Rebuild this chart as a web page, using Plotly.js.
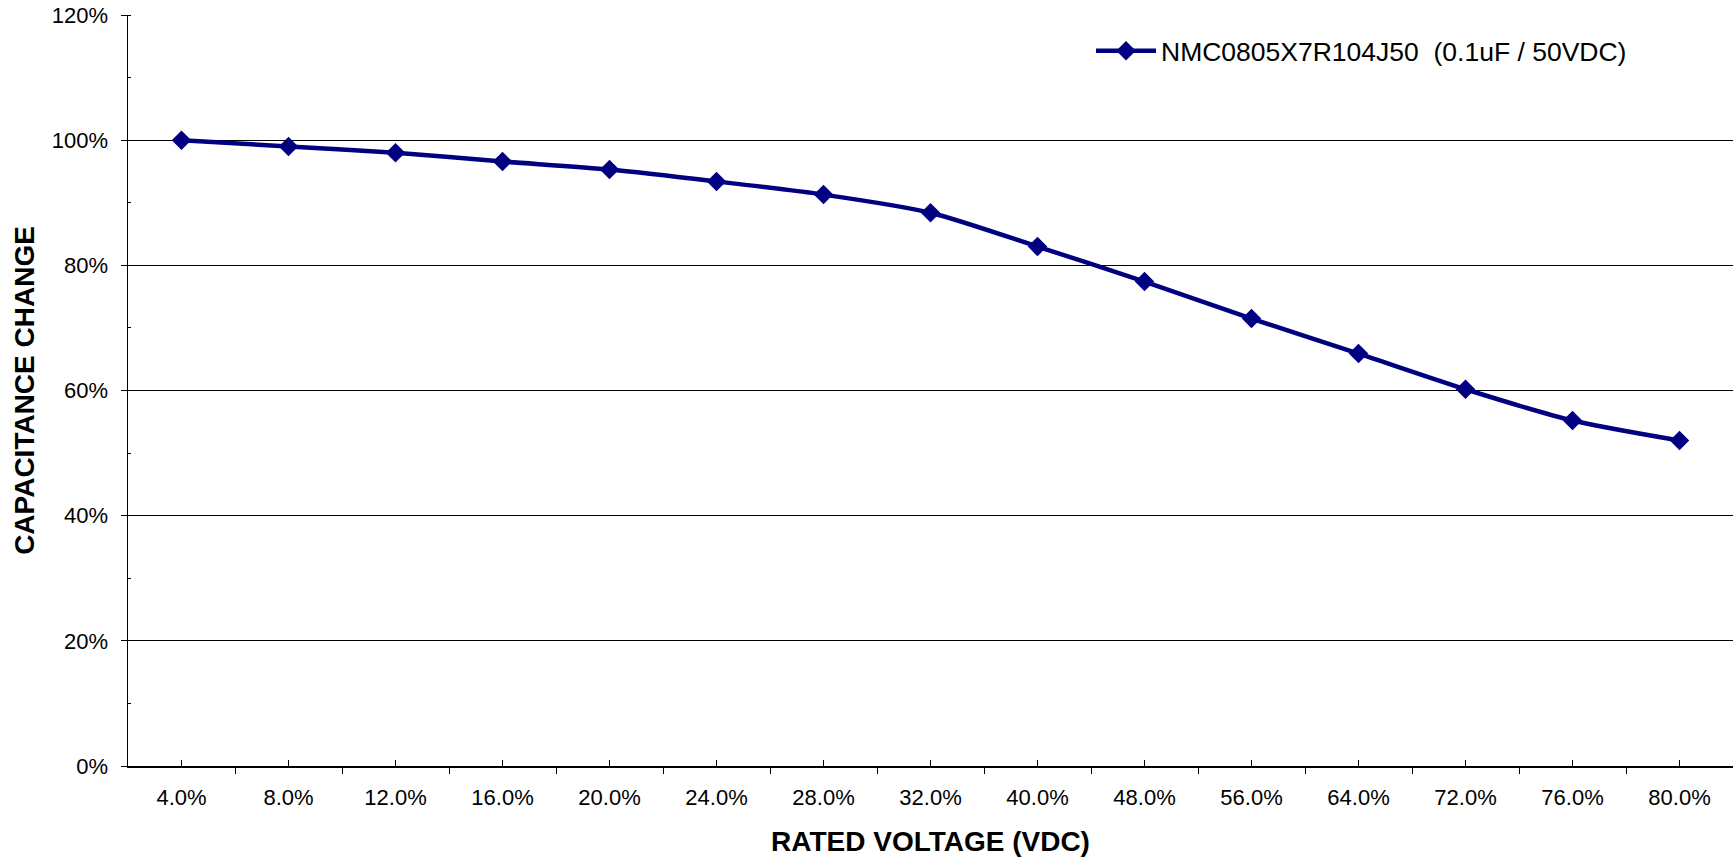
<!DOCTYPE html>
<html>
<head>
<meta charset="utf-8">
<script src="https://cdn.plot.ly/plotly-3.0.1.min.js"></script>
<style>html,body{margin:0;padding:0;background:#fff;}#chart{width:1733px;height:858px;}</style>
</head>
<body>
<div id="chart"></div>
<script>
var categories = ["4.0%","8.0%","12.0%","16.0%","20.0%","24.0%","28.0%","32.0%","40.0%","48.0%","56.0%","64.0%","72.0%","76.0%","80.0%"];
var capacitanceChange = [100, 99, 98, 96.6, 95.3, 93.4, 91.3, 88.4, 83.0, 77.4, 71.5, 65.9, 60.2, 55.2, 52.0];
var seriesName = "NMC0805X7R104J50\u00a0 (0.1uF / 50VDC)";
var yTickVals = [0, 20, 40, 60, 80, 100, 120];
var yTickText = ["0%","20%","40%","60%","80%","100%","120%"];

var xIdx = categories.map(function(c, i){ return i; });

var trace = {
  x: xIdx,
  y: capacitanceChange,
  type: 'scatter',
  mode: 'lines+markers',
  name: seriesName,
  line: {color: '#000080', width: 4.5, shape: 'spline', smoothing: 0.7},
  marker: {symbol: 'diamond', size: 15, color: '#000080'}
};

var layout = {
  width: 1733, height: 858,
  margin: {l: 128, r: 0, t: 15, b: 92},
  paper_bgcolor: '#ffffff',
  plot_bgcolor: '#ffffff',
  font: {family: 'Liberation Sans, Arial, sans-serif', color: '#000000'},
  showlegend: true,
  legend: {
    x: 0.6, y: 0.952, xanchor: 'left', yanchor: 'middle',
    font: {size: 26.5, color: '#000000'},
    bgcolor: 'rgba(0,0,0,0)', itemwidth: 60
  },
  xaxis: {
    type: 'linear',
    range: [-0.5, 14.5],
    tickvals: xIdx,
    ticktext: categories,
    ticks: 'inside', ticklen: 6, tickwidth: 1, tickcolor: '#000',
    minor: {tick0: -0.5, dtick: 1, ticks: 'outside', ticklen: 6, tickwidth: 1, tickcolor: '#000', showgrid: false},
    showline: true, linecolor: '#000', linewidth: 1.5,
    showgrid: false, zeroline: false,
    tickfont: {size: 22},
    ticklabelstandoff: 11,
    title: {text: 'RATED VOLTAGE (VDC)', font: {size: 28, family: 'Liberation Sans, Arial, sans-serif', weight: 'bold'}, standoff: 22},
    automargin: false,
    fixedrange: true
  },
  yaxis: {
    range: [0, 120],
    tickvals: yTickVals,
    ticktext: yTickText,
    ticks: 'outside', ticklen: 6, tickwidth: 1, tickcolor: '#000',
    minor: {dtick: 10, ticks: 'inside', ticklen: 3, tickwidth: 1, tickcolor: '#000', showgrid: false},
    showline: true, linecolor: '#000', linewidth: 1.5,
    showgrid: true, gridcolor: '#000', gridwidth: 1,
    zeroline: false,
    tickfont: {size: 22},
    ticklabelstandoff: 8,
    title: {text: 'CAPACITANCE CHANGE', font: {size: 28, family: 'Liberation Sans, Arial, sans-serif', weight: 'bold'}, standoff: 9},
    automargin: false,
    fixedrange: true
  }
};

Plotly.newPlot('chart', [trace], layout, {displayModeBar: false, staticPlot: true});
</script>
</body>
</html>
